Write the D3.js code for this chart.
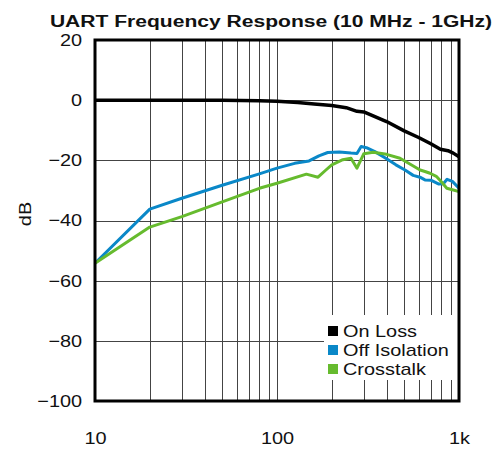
<!DOCTYPE html>
<html>
<head>
<meta charset="utf-8">
<script src="https://cdn.jsdelivr.net/npm/d3@7"></script>
<style>
  body { margin: 0; background: #fff; }
  text { font-family: "Liberation Sans", Arial, sans-serif; fill: #111; }
</style>
</head>
<body>
<div id="chart"></div>
<script>
// values (frequency in MHz, level in dB)
var onLossFreq = [10, 20, 50, 80, 100, 130, 160, 200, 240, 275, 300, 340, 400, 500, 600, 700, 790, 870, 930, 1000];
var onLossDb   = [0, 0, 0, -0.2, -0.4, -0.8, -1.3, -1.8, -2.5, -3.7, -3.9, -5.3, -7.1, -10.2, -12.4, -14.5, -16.3, -16.8, -17.6, -18.8];

var offIsoFreq = [10, 20, 30, 50, 80, 100, 125, 150, 170, 190, 220, 255, 275, 290, 310, 345, 400, 450, 505, 560, 610, 650, 700, 775, 820, 860, 920, 1000];
var offIsoDb   = [-54.2, -36.2, -32.6, -28.3, -24.5, -22.6, -21, -20.2, -18.5, -17.4, -17.2, -17.6, -17.7, -15.4, -15.8, -17.1, -19.5, -21.5, -23.2, -25, -25.6, -26.5, -26.6, -27.9, -27.8, -26.3, -27, -29.3];

var crossFreq = [10, 20, 30, 50, 80, 100, 145, 168, 185, 200, 230, 255, 275, 300, 338, 400, 474, 540, 611, 650, 693, 750, 800, 857, 920, 1000];
var crossDb   = [-54.2, -42.2, -38.7, -33.8, -29.3, -27.6, -24.6, -25.6, -23.3, -21.5, -19.8, -19.3, -22.6, -17.8, -17.3, -18, -19.3, -21.3, -23.2, -23.7, -24.3, -25.3, -27.1, -29.3, -29.8, -30.4];

var seriesNames = ["On Loss", "Off Isolation", "Crosstalk"];
var seriesColors = ["#000000", "#0a88c8", "#66bb2e"];

var yTicks = [20, 0, -20, -40, -60, -80, -100];
var xTicks = [10, 100, 1000];
var xTickLabels = ["10", "100", "1k"];
var xGrid = [20, 30, 40, 50, 60, 70, 80, 90, 100, 200, 300, 400, 500, 600, 700, 800, 900];

var w = 504, h = 451;
var pLeft = 95, pRight = 459, pTop = 40, pBottom = 401;
var sx = 1.17; // text in the reference is drawn a bit wide

var svg = d3.select("#chart").append("svg")
  .attr("width", w).attr("height", h);

var x = d3.scaleLog().domain([10, 1000]).range([pLeft, pRight]);
var y = d3.scaleLinear().domain([-100, 20]).range([pBottom, pTop]);

// grid
svg.append("g").selectAll("line").data(xGrid).enter().append("line")
  .attr("x1", function(d) { return Math.round(x(d)) + 0.5; })
  .attr("x2", function(d) { return Math.round(x(d)) + 0.5; })
  .attr("y1", pTop).attr("y2", pBottom)
  .attr("stroke", "#444").attr("stroke-width", 1);

svg.append("g").selectAll("line").data(yTicks.slice(1, -1)).enter().append("line")
  .attr("y1", function(d) { return Math.round(y(d)) + 0.5; })
  .attr("y2", function(d) { return Math.round(y(d)) + 0.5; })
  .attr("x1", pLeft).attr("x2", pRight)
  .attr("stroke", "#444").attr("stroke-width", 1);

// legend background hides the grid behind it
svg.append("rect")
  .attr("x", 324).attr("y", 315).attr("width", pRight - 324).attr("height", 65)
  .attr("fill", "#fff");

// series
var line = d3.line()
  .x(function(d) { return x(d[0]); })
  .y(function(d) { return y(d[1]); });

var series = [
  d3.zip(onLossFreq, onLossDb),
  d3.zip(offIsoFreq, offIsoDb),
  d3.zip(crossFreq, crossDb)
];

svg.append("g").selectAll("path").data(series).enter().append("path")
  .attr("d", line)
  .attr("fill", "none")
  .attr("stroke", function(d, i) { return seriesColors[i]; })
  .attr("stroke-width", function(d, i) { return i === 0 ? 3.5 : 3; })
  .attr("stroke-linejoin", "round");

// frame
svg.append("rect")
  .attr("x", pLeft).attr("y", pTop)
  .attr("width", pRight - pLeft).attr("height", pBottom - pTop)
  .attr("fill", "none").attr("stroke", "#000").attr("stroke-width", 3);

// axes
var yAxis = svg.append("g").attr("transform", "translate(" + pLeft + ",0)")
  .call(d3.axisLeft(y).tickValues(yTicks).tickSize(0).tickPadding(11));
var xAxis = svg.append("g").attr("transform", "translate(0," + pBottom + ")")
  .call(d3.axisBottom(x).tickValues(xTicks).tickSize(0).tickPadding(31)
    .tickFormat(function(d, i) { return xTickLabels[i]; }));

[yAxis, xAxis].forEach(function(a) {
  a.select(".domain").remove();
  a.selectAll("text")
    .attr("font-size", 17)
    .attr("font-family", "Liberation Sans, Arial, sans-serif")
    .attr("fill", "#111")
    .attr("transform", "scale(" + sx + ",1)");
});

// title
svg.append("text")
  .attr("transform", "translate(271,27) scale(1.24,1)")
  .attr("text-anchor", "middle")
  .attr("font-size", 17).attr("font-weight", "bold")
  .text("UART Frequency Response (10 MHz - 1GHz)");

// y label
svg.append("text")
  .attr("transform", "translate(31,214) rotate(-90) scale(" + sx + ",1)")
  .attr("text-anchor", "middle")
  .attr("font-size", 17)
  .text("dB");

// legend
var legend = svg.append("g").selectAll("g").data(seriesNames).enter().append("g")
  .attr("transform", function(d, i) { return "translate(328," + (326 + i * 19) + ")"; });

legend.append("rect")
  .attr("width", 10).attr("height", 10)
  .attr("fill", function(d, i) { return seriesColors[i]; });

legend.append("text")
  .attr("transform", "translate(15,11) scale(" + sx + ",1)")
  .attr("font-size", 17)
  .text(function(d) { return d; });
</script>
</body>
</html>
